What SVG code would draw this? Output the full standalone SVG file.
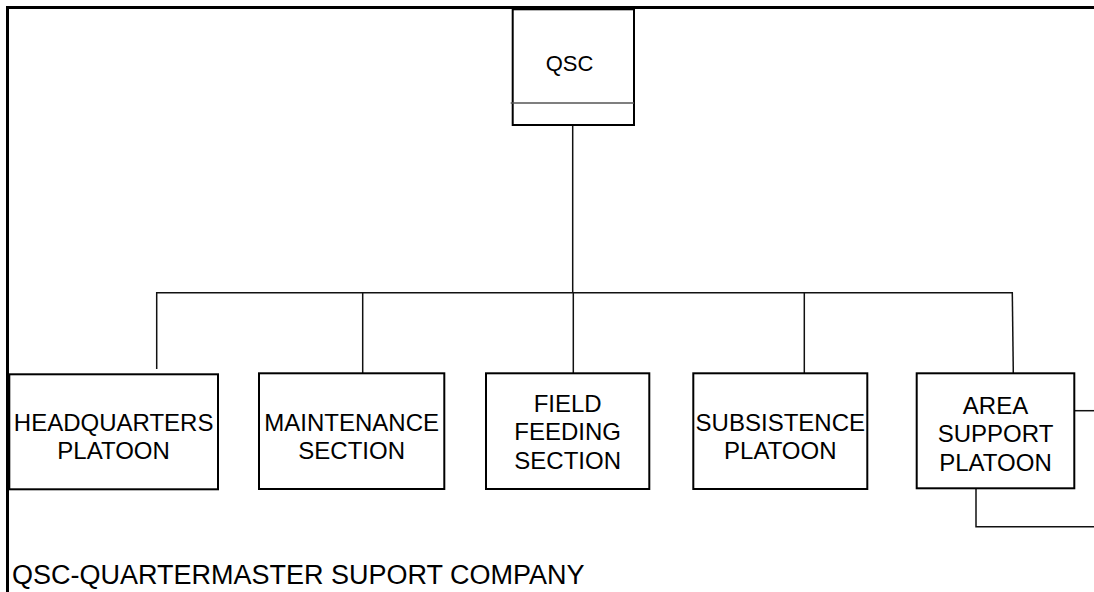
<svg xmlns="http://www.w3.org/2000/svg" width="1094" height="592" viewBox="0 0 1094 592">
<style>
.box{fill:#fff;stroke:#000;stroke-width:2}
.t{font-family:"Liberation Sans",Arial,sans-serif;font-size:24px;fill:#000;text-anchor:middle}
.c{fill:none;stroke:#111;stroke-width:1.5}
.frame{fill:none;stroke:#000;stroke-width:3}
</style>
<rect width="1094" height="592" fill="#fff"/>
<path class="frame" d="M7.5,592 V7.5 H1094"/>
<g id="connectors">
<path class="c" d="M572.7,125 V292.7"/>
<path class="c" d="M156.7,369 V292.7 H1013"/>
<path class="c" d="M362.7,292.7 V373.3"/>
<path class="c" d="M573.3,292.7 V373.3"/>
<path class="c" d="M804.3,292.7 V373.3"/>
<path class="c" d="M1012.3,292.7 L1013.3,373.3"/>
<path class="c" d="M1074.3,410.7 H1094"/>
<path class="c" d="M976,488.3 V526.7 H1094"/>
</g>
<g id="qsc">
<rect class="box" x="512.7" y="9.3" width="121.3" height="115.7" stroke-width="2.5"/>
<line x1="510.7" y1="103" x2="634" y2="103" stroke="#555" stroke-width="1.5"/>
<text class="t" x="569.5" y="71" style="font-size:22px">QSC</text>
</g>
<g id="hq">
<rect class="box" x="9.3" y="374.3" width="208.7" height="115"/>
<text class="t" x="113.6" y="430.5">HEADQUARTERS</text>
<text class="t" x="113.6" y="459">PLATOON</text>
</g>
<g id="maint">
<rect class="box" x="259" y="373.3" width="185.3" height="115.7"/>
<text class="t" x="351.7" y="430.5">MAINTENANCE</text>
<text class="t" x="351.7" y="459">SECTION</text>
</g>
<g id="field">
<rect class="box" x="486" y="373.3" width="163.3" height="115.7"/>
<text class="t" x="567.7" y="412">FIELD</text>
<text class="t" x="567.7" y="440.3">FEEDING</text>
<text class="t" x="567.7" y="468.6">SECTION</text>
</g>
<g id="subsist">
<rect class="box" x="693.3" y="373.3" width="174" height="115.7"/>
<text class="t" x="780.3" y="430.5">SUBSISTENCE</text>
<text class="t" x="780.3" y="459">PLATOON</text>
</g>
<g id="area">
<rect class="box" x="916.7" y="373.3" width="157.6" height="115"/>
<text class="t" x="995.5" y="414">AREA</text>
<text class="t" x="995.5" y="442.3">SUPPORT</text>
<text class="t" x="995.5" y="470.6">PLATOON</text>
</g>
<text x="12" y="583.5" style="font-family:'Liberation Sans',Arial,sans-serif;font-size:27px;fill:#000">QSC-QUARTERMASTER SUPORT COMPANY</text>
</svg>
